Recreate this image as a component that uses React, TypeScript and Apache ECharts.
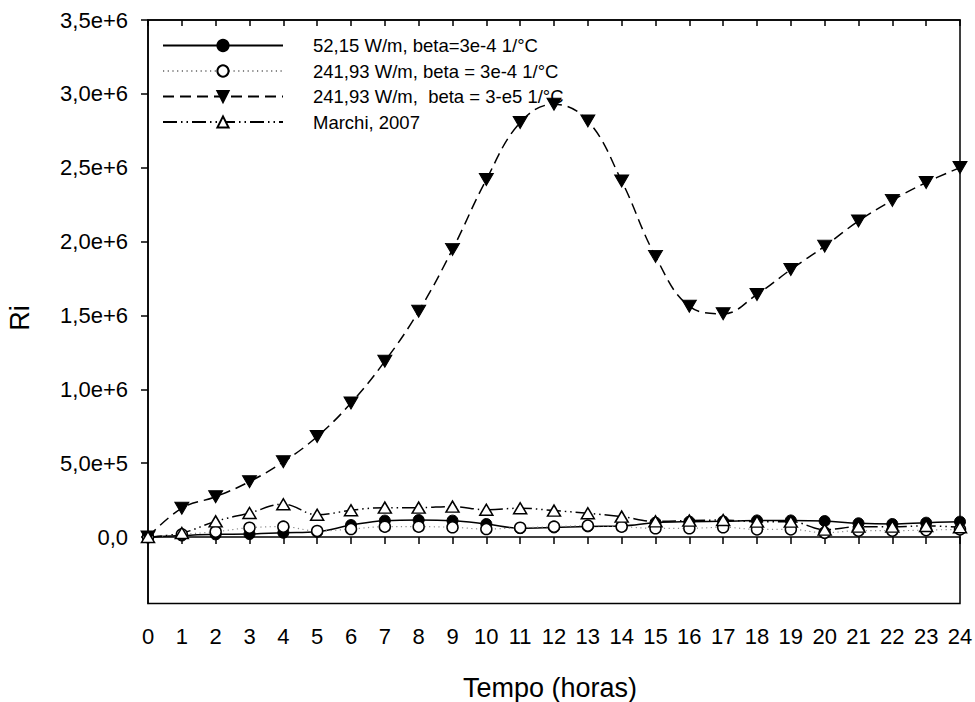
import React, { useEffect, useRef } from "react";
import * as echarts from "echarts";

// Hours of the day (x axis)
const hours = [0, 1, 2, 3, 4, 5, 6, 7, 8, 9, 10, 11, 12, 13, 14, 15, 16, 17, 18, 19, 20, 21, 22, 23, 24];

// Richardson number for each case
const ri52Beta3e4 = [
  0, 10000, 18000, 20000, 29000, 36000, 81000, 111000, 115000, 111000, 88000, 60000, 65000,
  72000, 75000, 97000, 104000, 106000, 112000, 112000, 108000, 93000, 88000, 97000, 104000,
];
const ri241Beta3e4 = [
  0, 18000, 36000, 63000, 70000, 41000, 54000, 70000, 70000, 66000, 54000, 63000, 70000,
  77000, 70000, 59000, 59000, 66000, 52000, 52000, 29000, 43000, 43000, 47000, 52000,
];
const ri241Beta3e5 = [
  0, 195000, 273000, 375000, 509000, 680000, 907000, 1190000, 1528000, 1947000, 2420000,
  2806000, 2930000, 2817000, 2410000, 1900000, 1562000, 1511000, 1642000, 1811000, 1969000,
  2139000, 2279000, 2400000, 2501000,
];
const riMarchi2007 = [
  0, 27000, 106000, 163000, 222000, 151000, 181000, 199000, 199000, 206000, 185000, 195000,
  179000, 161000, 138000, 106000, 111000, 115000, 104000, 104000, 50000, 70000, 70000, 75000,
  66000,
];

const seriesNames = [
  "52,15 W/m, beta=3e-4 1/°C",
  "241,93 W/m, beta = 3e-4 1/°C",
  "241,93 W/m,  beta = 3-e5 1/°C",
  "Marchi, 2007",
];

// Labelled ticks on the Ri axis
const yTickValues = [0, 500000, 1000000, 1500000, 2000000, 2500000, 3000000, 3500000];
const yMin = -450000;
const yMax = 3500000;

const FONT = "'Liberation Sans', Arial, Helvetica, sans-serif";

function formatRi(v: number): string {
  if (v === 0) return "0,0";
  const exp = Math.floor(Math.log10(Math.abs(v)) + 1e-9);
  const mant = v / Math.pow(10, exp);
  return `${mant.toFixed(1).replace(".", ",")}e+${exp}`;
}

function pairs(values: number[]): number[][] {
  return hours.map((h, i) => [h, values[i]]);
}

export default function App() {
  const ref = useRef<HTMLDivElement>(null);

  useEffect(() => {
    document.body.style.margin = "0";
    if (!ref.current) return;
    const chart = echarts.init(ref.current, undefined, { renderer: "svg" });

    const axisLine = { show: true, lineStyle: { color: "#000", width: 1.5 } };

    chart.setOption({
      animation: false,
      backgroundColor: "#fff",
      textStyle: { fontFamily: FONT, color: "#000" },
      grid: {
        left: 148,
        right: 15,
        top: 20,
        bottom: 98.5,
        show: true,
        borderColor: "#000",
        borderWidth: 1.5,
        outerBoundsMode: "none",
      },
      legend: {
        orient: "vertical",
        left: 162,
        top: 36,
        padding: 0,
        itemWidth: 120,
        itemHeight: 14,
        itemGap: 6.5,
        selectedMode: false,
        textStyle: {
          fontFamily: FONT,
          fontSize: 18.5,
          lineHeight: 18,
          color: "#000",
          padding: [0, 0, 0, 25],
        },
        data: seriesNames,
      },
      xAxis: [
        {
          type: "value",
          position: "bottom",
          min: 0,
          max: 24,
          interval: 1,
          axisLine,
          axisTick: { show: true, inside: false, length: 7, lineStyle: { color: "#000", width: 1.5 } },
          axisLabel: { fontFamily: FONT, fontSize: 22, color: "#000", margin: 22 },
          splitLine: { show: false },
        },
        {
          type: "value",
          position: "top",
          min: 0,
          max: 24,
          interval: 1,
          axisLine,
          axisTick: { show: true, inside: true, length: 6, lineStyle: { color: "#000", width: 1.5 } },
          axisLabel: { show: false },
          splitLine: { show: false },
        },
      ],
      yAxis: {
        type: "value",
        min: yMin,
        max: yMax,
        axisLine,
        axisTick: {
          show: true,
          inside: false,
          length: 7,
          customValues: yTickValues,
          lineStyle: { color: "#000", width: 1.5 },
        },
        axisLabel: {
          fontFamily: FONT,
          fontSize: 22,
          color: "#000",
          margin: 20,
          padding: [5, 0, 0, 0],
          customValues: yTickValues,
          formatter: (v: number) => formatRi(v),
        },
        splitLine: { show: false },
      },
      graphic: [
        {
          type: "text",
          x: 550,
          y: 688,
          style: {
            text: "Tempo (horas)",
            font: `27px ${FONT}`,
            fill: "#000",
            textAlign: "center",
            textVerticalAlign: "middle",
          },
        },
        {
          type: "text",
          x: 20,
          y: 318,
          rotation: Math.PI / 2,
          style: {
            text: "Ri",
            font: `27px ${FONT}`,
            fill: "#000",
            textAlign: "center",
            textVerticalAlign: "middle",
          },
        },
      ],
      series: [
        {
          name: seriesNames[0],
          type: "line",
          data: pairs(ri52Beta3e4),
          smooth: 0.4,
          symbol: "circle",
          symbolSize: 11,
          lineStyle: { color: "#000", width: 1.5, type: "solid" },
          itemStyle: { color: "#000", borderColor: "#000", borderWidth: 1 },
        },
        {
          name: seriesNames[1],
          type: "line",
          data: pairs(ri241Beta3e4),
          smooth: 0.4,
          symbol: "circle",
          symbolSize: 11,
          lineStyle: { color: "#888", width: 1.2, type: [1.2, 3.5] },
          itemStyle: { color: "#fff", borderColor: "#000", borderWidth: 1.5 },
        },
        {
          name: seriesNames[2],
          type: "line",
          data: pairs(ri241Beta3e5),
          smooth: 0.4,
          symbol: "triangle",
          symbolRotate: 180,
          symbolSize: [14, 12],
          lineStyle: { color: "#000", width: 1.5, type: [11, 6] },
          itemStyle: { color: "#000", borderColor: "#000", borderWidth: 1 },
        },
        {
          name: seriesNames[3],
          type: "line",
          data: pairs(riMarchi2007),
          smooth: 0.4,
          symbol: "triangle",
          symbolSize: [13, 11],
          lineStyle: { color: "#000", width: 1.5, type: [14, 4, 1.5, 4, 1.5, 4] },
          itemStyle: { color: "#fff", borderColor: "#000", borderWidth: 1.5 },
        },
      ],
    });

    return () => chart.dispose();
  }, []);

  return <div ref={ref} style={{ width: 975, height: 702 }} />;
}
